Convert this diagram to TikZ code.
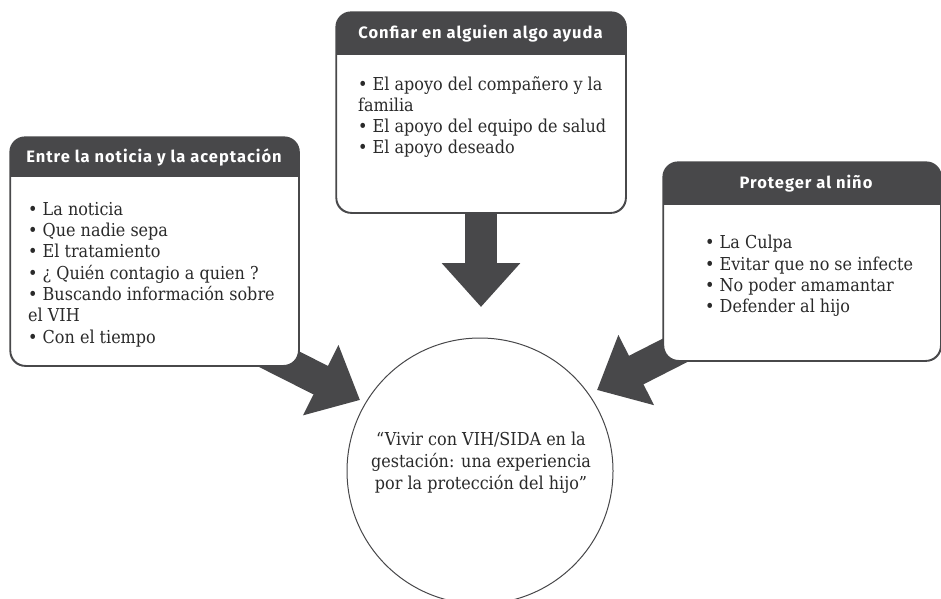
\documentclass[tikz,border=0pt]{standalone}
\usepackage{fontspec}
\usetikzlibrary{arrows.meta}
\newfontfamily\hdrfont{Fira Sans}[LetterSpace=6]
\newfontfamily\bodyfont{DejaVu Serif Condensed}
\definecolor{dk}{HTML}{48484A}
\definecolor{txt}{HTML}{2A2A2A}
\tikzset{
  boxframe/.style={draw=dk, line width=1.2pt, rounded corners=15pt, fill=white, inner sep=0pt, anchor=north west},
  boxedge/.style={draw=dk, line width=1.2pt, rounded corners=15pt},
  hdrtext/.style={text=white, font=\hdrfont\bfseries\fontsize{16.5}{19}\selectfont, inner sep=0pt},
  bodytext/.style={font=\bodyfont\fontsize{17.8}{21.3}\selectfont, align=left, anchor=north west, inner sep=0pt, text=txt},
  bigarrow/.style={draw=dk, line width=32pt, -{Triangle[width=76pt,length=44pt]}},
}
\begin{document}
\begin{tikzpicture}[x=1pt,y=-1pt]
\useasboundingbox (0,0) rectangle (941,598);
% central circle
\node[circle, draw=dk, line width=1pt, minimum size=266pt, fill=white, inner sep=0pt] (C) at (480,471) {};
\node[font=\bodyfont\fontsize{17.8}{22}\selectfont, align=center, text=txt, inner sep=0pt] (Ct) at (481,463)
  {“Vivir con VIH/SIDA en la\\gestación: una experiencia\\por la protección del hijo”};
% arrow end points
\coordinate (sT) at (481,150);
\coordinate (tT) at (481,307);
\coordinate (sL) at (253,346);
\coordinate (tL) at (360,400);
\coordinate (sR) at (713,331);
\coordinate (tR) at (597,390);
\draw[bigarrow] (sT) -- (tT);
\draw[bigarrow] (sL) -- (tL);
\draw[bigarrow] (sR) -- (tR);
% left box
\node[boxframe, minimum width=288pt, minimum height=228pt] (L) at (10,137) {};
\begin{scope}
  \clip[rounded corners=15pt] (L.north west) rectangle (L.south east);
  \fill[dk] (10,137) rectangle (298,177);
\end{scope}
\draw[boxedge] (L.north west) rectangle (L.south east);
\node[hdrtext] (Lh) at (154,157) {Entre la noticia y la aceptación};
\node[bodytext] (Lb) at (28,202) {• La noticia\\• Que nadie sepa\\• El tratamiento\\• ¿ Quién contagio a quien ?\\• Buscando información sobre\\el VIH\\• Con el tiempo};
% top box
\node[boxframe, minimum width=289pt, minimum height=200pt] (T) at (336,12) {};
\begin{scope}
  \clip[rounded corners=15pt] (T.north west) rectangle (T.south east);
  \fill[dk] (336,12) rectangle (625,55);
\end{scope}
\draw[boxedge] (T.north west) rectangle (T.south east);
\node[hdrtext] (Th) at (480.5,33.5) {Confiar en alguien algo ayuda};
\node[bodytext] (Tb) at (358,76) {• El apoyo del compañero y la\\familia\\• El apoyo del equipo de salud\\• El apoyo deseado};
% right box
\node[boxframe, minimum width=277pt, minimum height=198pt] (R) at (663,162) {};
\begin{scope}
  \clip[rounded corners=15pt] (R.north west) rectangle (R.south east);
  \fill[dk] (663,162) rectangle (940,205);
\end{scope}
\draw[boxedge] (R.north west) rectangle (R.south east);
\node[hdrtext] (Rh) at (806,183.5) {Proteger al niño};
\node[bodytext] (Rb) at (705,235) {• La Culpa\\• Evitar que no se infecte\\• No poder amamantar\\• Defender al hijo};
\end{tikzpicture}
\end{document}
